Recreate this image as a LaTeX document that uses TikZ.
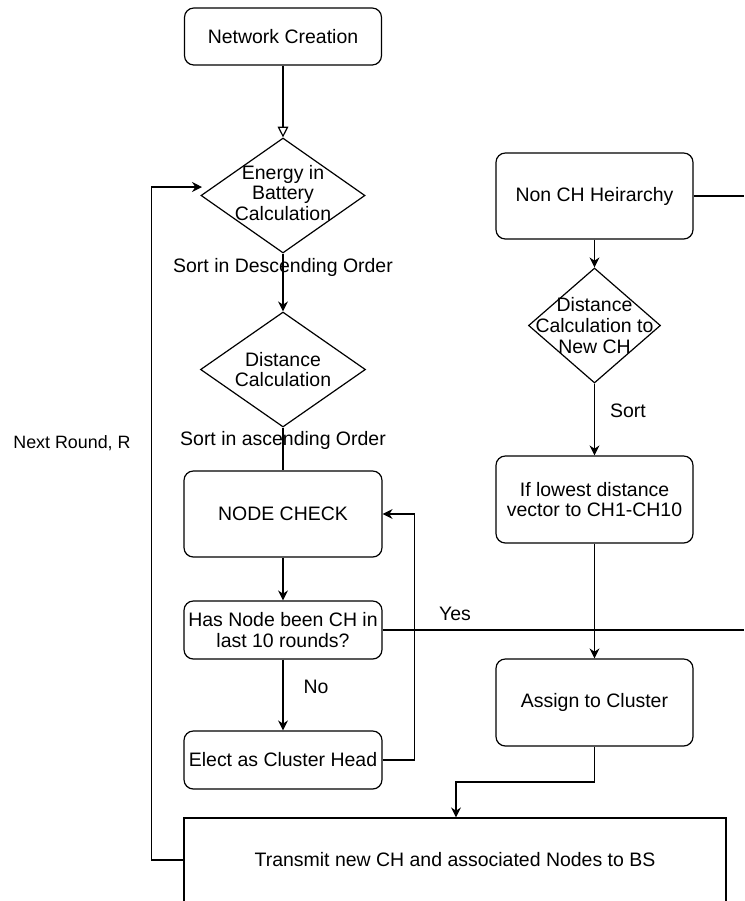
\documentclass[tikz,border=0pt]{standalone}
\usepackage{fontspec}
\setmainfont{Liberation Sans}
\usetikzlibrary{shapes.geometric,arrows.meta}
\begin{document}
\begin{tikzpicture}[x=0.75pt,y=-0.75pt,
  every node/.style={font=\fontsize{14.6}{15.4}\selectfont},
  sz/.style 2 args={minimum width=#1*0.75pt, minimum height=#2*0.75pt},
  box/.style={draw, rounded corners=7pt, line width=0.9pt, align=center, inner sep=0pt},
  sqbox/.style={draw, line width=0.9pt, align=center, inner sep=0pt},
  dia/.style={draw, diamond, line width=0.9pt, inner sep=0pt},
  dtext/.style={align=center, inner sep=0pt},
  lbl/.style={inner sep=0pt},
  line/.style={line width=0.9pt},
  arr/.style={line, -{Stealth[length=7.5pt,width=7.5pt]}},
  openarr/.style={line, -{Triangle[open,length=8pt,width=8pt]}}
  ]
\useasboundingbox (0,0) rectangle (744,901);
\clip (0,0) rectangle (744,901);

% left column
\node[box, sz={197}{57}] (n1) at (283,36.5) {Network Creation};
\node[dia, sz={164}{115}] (d1) at (283,195.5) {};
\node[dtext] (d1t) at (283,193) {Energy in\\Battery\\Calculation};
\node[dia, sz={165}{115}] (d2) at (283,369.5) {};
\node[dtext] (d2t) at (d2) {Distance\\Calculation};
\node[box, sz={198}{86}] (nc) at (283,514) {NODE CHECK};
\node[box, sz={198}{58}] (hn) at (283,630) {Has Node been CH in\\last 10 rounds?};
\node[box, sz={198}{58}] (el) at (283,760) {Elect as Cluster Head};

% right column
\node[box, sz={197}{86}] (nh) at (594.5,196) {Non CH Heirarchy};
\node[dia, sz={132}{115}] (d3) at (594.5,325.5) {};
\node[dtext] (d3t) at (d3) {Distance\\Calculation to\\New CH};
\node[box, sz={197}{87}] (lw) at (594.5,499.5) {If lowest distance\\vector to CH1-CH10};
\node[box, sz={197}{87}] (ac) at (594.5,702.5) {Assign to Cluster};

% bottom
\node[sqbox, sz={542}{84}] (tx) at (455,860) {Transmit new CH and associated Nodes to BS};

% labels
\node[lbl] (l1) at (283,267) {Sort in Descending Order};
\node[lbl] (l2) at (283,440) {Sort in ascending Order};
\node[lbl] (l3) at (316,687) {No};
\node[lbl] (l4) at (455,614) {Yes};
\node[lbl] (l5) at (628,411) {Sort};
\node[lbl, font=\fontsize{13.4}{15}\selectfont] (l6) at (72,443) {Next Round, R};

% free ends
\coordinate (yesend) at (744,630);
\coordinate (nhend) at (744,196);
\coordinate (b1) at (456,782);
\coordinate (d1in) at (202,187);

% connectors
\draw[openarr] (n1.south) -- (d1.north);
\draw[arr] (d1.south) -- (d2.north);
\draw[line] (d2.south) -- (nc.north);
\draw[arr] (nc.south) -- (hn.north);
\draw[arr] (hn.south) -- (el.north);
\draw[arr] (el.east) -- ++(32,0) |- (nc.east);
\draw[line] (hn.east) -- (yesend);
\draw[line] (nh.east) -- (nhend);
\draw[arr] (nh.south) -- (d3.north);
\draw[arr] (d3.south) -- (lw.north);
\draw[arr] (lw.south) -- (ac.north);
\draw[arr] (ac.south) |- (b1) -- (b1 |- tx.north);
\draw[arr] (tx.west) -- ++(-32,0) |- (d1in);
\end{tikzpicture}
\end{document}
